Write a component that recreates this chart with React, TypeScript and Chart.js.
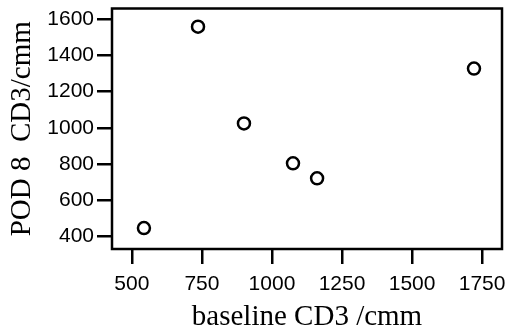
import React, { useEffect, useRef } from "react";
import { Chart, registerables } from "chart.js";

Chart.register(...registerables);

const baselineCD3: number[] = [543, 736, 900, 1075, 1161, 1721];
const pod8CD3: number[] = [444, 1560, 1024, 803, 720, 1328];
const xTickValues: number[] = [500, 750, 1000, 1250, 1500, 1750];
const yTickValues: number[] = [400, 600, 800, 1000, 1200, 1400, 1600];
const xTitle = "baseline CD3 /cmm";
const yTitle = "POD 8  CD3/cmm";

const framePlugin = {
  id: "frame",
  afterDatasetsDraw(chart: any) {
    const { ctx, chartArea } = chart;
    ctx.save();
    ctx.strokeStyle = "#000";
    ctx.lineWidth = 2.5;
    ctx.strokeRect(chartArea.left, chartArea.top, chartArea.right - chartArea.left, chartArea.bottom - chartArea.top);
    ctx.restore();
  },
};

export default function App() {
  const ref = useRef<HTMLCanvasElement | null>(null);
  useEffect(() => {
    if (!ref.current) return;
    const sans = "'Liberation Sans', Arial, sans-serif";
    const serif = "'Liberation Serif', 'Times New Roman', serif";
    const chart = new Chart(ref.current, {
      type: "scatter",
      data: {
        datasets: [
          {
            data: baselineCD3.map((x, i) => ({ x, y: pod8CD3[i] })),
            pointStyle: "circle",
            pointRadius: 6,
            pointBorderWidth: 2.5,
            borderColor: "#000",
            backgroundColor: "#fff",
          },
        ],
      },
      options: {
        responsive: false,
        animation: false,
        layout: { padding: { top: 8, right: 10, left: 0, bottom: 0 } },
        plugins: { legend: { display: false }, tooltip: { enabled: false } },
        scales: {
          x: {
            type: "linear",
            min: 429,
            max: 1821,
            afterFit: (s: any) => {
              s.height = 87;
              s.paddingLeft = 0;
              s.paddingRight = 0;
            },
            afterBuildTicks: (s: any) => {
              s.ticks = xTickValues.map((v) => ({ value: v }));
            },
            ticks: {
              includeBounds: false,
              color: "#000",
              font: { family: sans, size: 21 },
              padding: 8,
              maxRotation: 0,
              callback: (v: any) => String(v),
            },
            grid: {
              drawOnChartArea: false,
              drawTicks: true,
              tickLength: 15,
              lineWidth: 2.5,
              color: "#000",
            },
            border: { display: false },
            title: {
              display: true,
              text: xTitle,
              color: "#000",
              font: { family: serif, size: 29, lineHeight: 1 },
              padding: { top: 0, bottom: 4 },
            },
          },
          y: {
            type: "linear",
            min: 328,
            max: 1661,
            afterFit: (s: any) => {
              s.width = 112;
              s.paddingTop = 0;
              s.paddingBottom = 0;
            },
            afterBuildTicks: (s: any) => {
              s.ticks = yTickValues.map((v) => ({ value: v }));
            },
            ticks: {
              includeBounds: false,
              color: "#000",
              font: { family: sans, size: 21 },
              padding: 3,
              callback: (v: any) => String(v),
            },
            grid: {
              drawOnChartArea: false,
              drawTicks: true,
              tickLength: 15,
              lineWidth: 2.5,
              color: "#000",
            },
            border: { display: false },
            title: {
              display: true,
              text: yTitle,
              color: "#000",
              font: { family: serif, size: 29, lineHeight: 1 },
              padding: { top: 8, bottom: 0 },
            },
          },
        },
      },
      plugins: [framePlugin],
    });
    return () => chart.destroy();
  }, []);
  return (
    <canvas
      ref={ref}
      width={512}
      height={336}
      style={{ position: "absolute", left: 0, top: 0, display: "block", background: "#fff" }}
    />
  );
}
